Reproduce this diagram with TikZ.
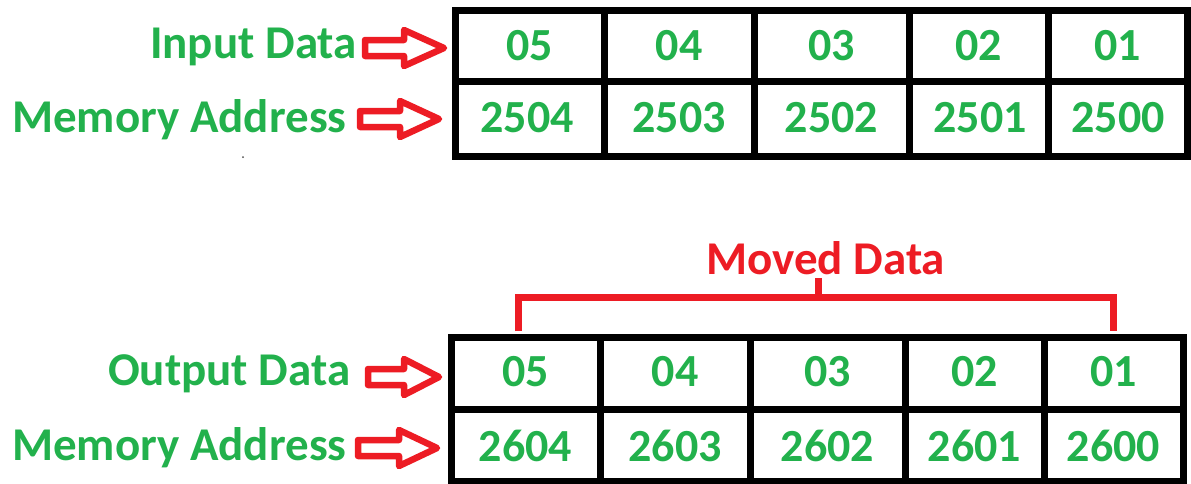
\documentclass[tikz,border=0pt]{standalone}
\usepackage{fontspec}
\setmainfont{Carlito}
\definecolor{paintgreen}{RGB}{34,177,76}
\definecolor{paintred}{RGB}{237,28,36}

% hollow block arrow: #1 tail x, #2 neck x, #3 tip x, #4 centre y
\newcommand\hollowarrow[4]{%
  \draw[bigarrow] (#1,{#4-8}) -- (#2,{#4-8}) -- (#2,{#4-18}) -- (#3,#4)
    -- (#2,{#4+18}) -- (#2,{#4+8}) -- (#1,{#4+8}) -- cycle;}

\begin{document}
\begin{tikzpicture}[x=1pt,y=-1pt,
  lbl/.style={text=paintgreen,font=\bfseries\fontsize{47}{56}\selectfont,inner sep=0pt,anchor=base west},
  num/.style={text=paintgreen,font=\bfseries\fontsize{46}{55}\selectfont,inner sep=0pt},
  gridline/.style={draw=black,line width=7pt,line join=miter},
  bigarrow/.style={draw=paintred,fill=white,line width=6.5pt,line join=round},
  bracketline/.style={draw=paintred,line width=7pt,line join=miter}]
\useasboundingbox (0,0) rectangle (1191,483);

% row labels
\node[lbl] (inlabel)  at (150,58)  {Input Data};
\node[lbl] (inaddr)   at (12,132)  {Memory Address};
\node[lbl] (outlabel) at (108,385) {Output Data};
\node[lbl] (outaddr)  at (12,460)  {Memory Address};

% input table
\draw[gridline] (455,10.5) rectangle (1187,156.5);
\draw[gridline] (455,81.5) -- (1187,81.5);
\foreach \x in {604,754,909,1048} \draw[gridline] (\x,10.5) -- (\x,156.5);
\foreach \t/\x [count=\i] in {05/529.5,04/679,03/831.5,02/978.5,01/1117.5}
  \node[num] (in\i) at (\x,46) {\t};
\foreach \t/\x [count=\i] in {2504/527,2503/679,2502/831.5,2501/980,2500/1118}
  \node[num] (ina\i) at (\x,118) {\t};

% output table
\draw[gridline] (451,337.5) rectangle (1183,481);
\draw[gridline] (451,409) -- (1183,409);
\foreach \x in {600,750,905,1044} \draw[gridline] (\x,337.5) -- (\x,481);
\foreach \t/\x [count=\i] in {05/525.5,04/675,03/827.5,02/974.5,01/1113.5}
  \node[num] (out\i) at (\x,372) {\t};
\foreach \t/\x [count=\i] in {2604/525.5,2603/675,2602/827.5,2601/974.5,2600/1113.5}
  \node[num] (outa\i) at (\x,446) {\t};

% pointer arrows
\hollowarrow{365}{404}{444}{48}
\hollowarrow{360}{400}{439}{119}
\hollowarrow{368}{404}{439}{377}
\hollowarrow{358}{399}{437}{448}

% moved-data bracket
\node[text=paintred,font=\bfseries\fontsize{47}{56}\selectfont,inner sep=0pt,anchor=base west] (moved) at (706,274) {Moved Data};
\coordinate (bl) at (518.5,331);
\coordinate (br) at (1113.5,331);
\coordinate (bm) at (818.5,278);
\draw[bracketline] (bl) -- (518.5,297) -- (1113.5,297) -- (br);
\draw[bracketline] (818.5,297) -- (bm);

\fill[black!70] (243,157) circle (1pt);
\end{tikzpicture}
\end{document}
